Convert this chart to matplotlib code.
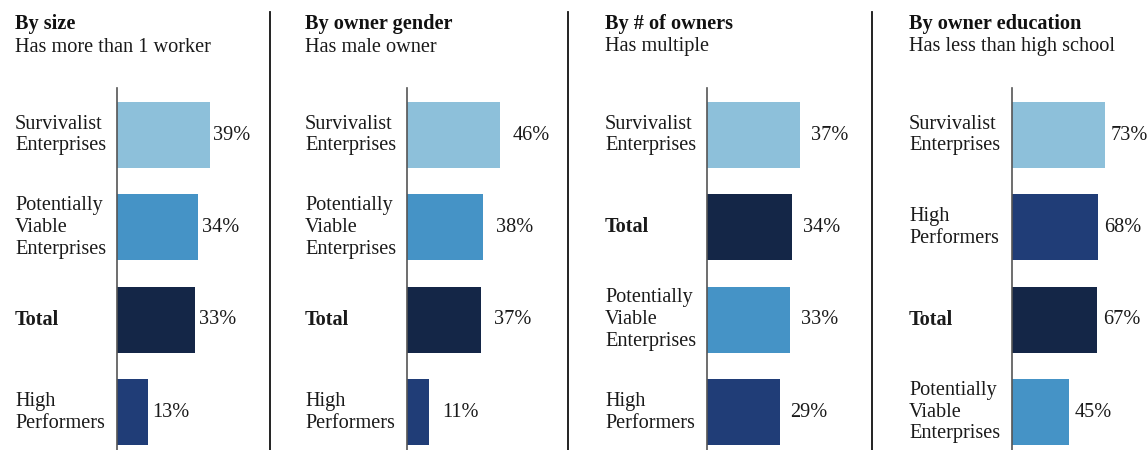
import matplotlib
matplotlib.use("Agg")
import matplotlib.pyplot as plt
import matplotlib.transforms as mtransforms

plt.rcParams['font.family'] = ['Liberation Serif', 'DejaVu Serif']

W, H = 1148, 450
DPI = 100

# Panel headings
titles = ["By size", "By owner gender", "By # of owners", "By owner education"]
subtitles = ["Has more than 1 worker", "Has male owner", "Has multiple",
             "Has less than high school"]

# Category order (top to bottom) and values for each panel
cats_size = ["Survivalist\nEnterprises", "Potentially\nViable\nEnterprises", "Total",
             "High\nPerformers"]
vals_size = [39, 34, 33, 13]

cats_gender = ["Survivalist\nEnterprises", "Potentially\nViable\nEnterprises", "Total",
               "High\nPerformers"]
vals_gender = [46, 38, 37, 11]

cats_owners = ["Survivalist\nEnterprises", "Total", "Potentially\nViable\nEnterprises",
               "High\nPerformers"]
vals_owners = [37, 34, 33, 29]

cats_edu = ["Survivalist\nEnterprises", "High\nPerformers", "Total",
            "Potentially\nViable\nEnterprises"]
vals_edu = [73, 68, 67, 45]

group_colors = {
    "Survivalist\nEnterprises": "#8dc0da",
    "Potentially\nViable\nEnterprises": "#4593c6",
    "Total": "#142647",
    "High\nPerformers": "#203d77",
}

panels = [
    (titles[0], subtitles[0], cats_size, vals_size),
    (titles[1], subtitles[1], cats_gender, vals_gender),
    (titles[2], subtitles[2], cats_owners, vals_owners),
    (titles[3], subtitles[3], cats_edu, vals_edu),
]

# layout in pixels
text_x = [15, 305, 605, 909]
axis_x = [117, 407, 707, 1012]
label_gap_px = [4, 13, 11, 6]
separators = [270, 568, 872]
ax_top, ax_bottom = 88, 450
ax_w = 135
bar_px_max = 92.5

fig = plt.figure(figsize=(W / DPI, H / DPI), dpi=DPI)

def fx(px):
    return px / W

def fy(py):
    return 1 - py / H

FS = 14.6

for i, (title, sub, cats, vals) in enumerate(panels):
    ax = fig.add_axes([fx(axis_x[i]), fy(ax_bottom), ax_w / W, (ax_bottom - ax_top) / H])
    pos = list(range(len(cats)))
    colors = [group_colors[c] for c in cats]
    ax.barh(pos, vals, height=0.715, color=colors)
    xmax = max(vals) * ax_w / bar_px_max
    ax.set_xlim(0, xmax)
    ax.set_ylim(3.41, -0.51)
    for s in ["top", "right", "bottom"]:
        ax.spines[s].set_visible(False)
    ax.spines["left"].set_color("#555555")
    ax.spines["left"].set_linewidth(1.2)
    ax.set_xticks([])
    ax.set_yticks([])
    ax.patch.set_alpha(0)

    pad_pt = label_gap_px[i] * 72 / DPI
    for p, v in zip(pos, vals):
        ax.annotate(f"{v}%", (v, p), xytext=(pad_pt, 0), textcoords="offset points",
                    ha="left", va="center", fontsize=FS, color="#1a1a1a",
                    annotation_clip=False)

    trans = mtransforms.blended_transform_factory(fig.transFigure, ax.transData)
    for p, c in zip(pos, cats):
        ax.text(fx(text_x[i]), p, c, transform=trans, ha="left", va="center",
                fontsize=FS, color="#1a1a1a", linespacing=1.2,
                fontweight="bold" if c == "Total" else "normal", clip_on=False)

    fig.text(fx(text_x[i]), fy(24), title, ha="left", va="center", fontsize=FS,
             fontweight="bold", color="#111111")
    fig.text(fx(text_x[i]), fy(47), sub, ha="left", va="center", fontsize=FS,
             color="#1a1a1a")

for sx in separators:
    fig.add_artist(plt.Line2D([fx(sx), fx(sx)], [fy(12), 0], transform=fig.transFigure,
                              color="#111111", linewidth=1.3))

fig.savefig("out.png", dpi=DPI)
